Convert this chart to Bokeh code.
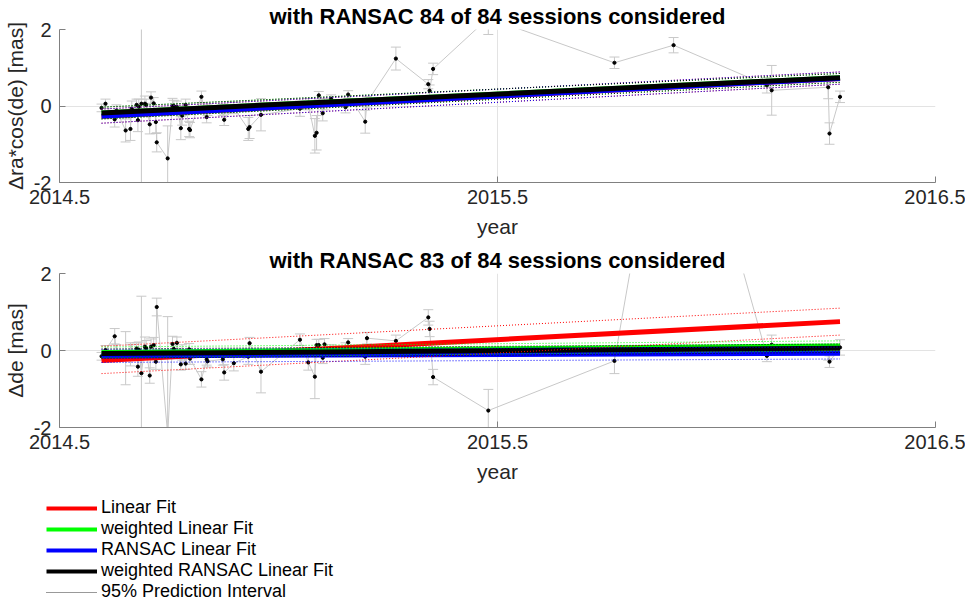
import numpy as np
from bokeh.plotting import figure
from bokeh.layouts import column
from bokeh.models import Range1d, FixedTicker, Legend, LegendItem
from bokeh.embed import file_html
from bokeh.resources import INLINE

# ---------------- data ----------------
years = [2014.596, 2014.605, 2014.626, 2014.630, 2014.651, 2014.662, 2014.665, 2014.676,
         2014.679, 2014.681, 2014.687, 2014.695, 2014.698, 2014.706, 2014.709, 2014.715,
         2014.720, 2014.722, 2014.747, 2014.758, 2014.761, 2014.768, 2014.777, 2014.780,
         2014.788, 2014.796, 2014.798, 2014.824, 2014.836, 2014.838, 2014.873, 2014.876,
         2014.898, 2014.931, 2014.934, 2014.960, 2015.049, 2015.068, 2015.083, 2015.087,
         2015.092, 2015.101, 2015.105, 2015.120, 2015.153, 2015.159, 2015.198, 2015.202,
         2015.268, 2015.342, 2015.345, 2015.353, 2015.479, 2015.767, 2015.902, 2016.115,
         2016.126, 2016.255, 2016.258, 2016.282]

ra = [-0.05, 0.06, -0.35, -0.12, -0.64, -0.60, -0.07, 0.03,
      -0.37, -0.02, 0.06, 0.06, 0.03, -0.48, 0.22, 0.07,
      -0.42, -0.95, -1.37, 0.00, 0.00, -0.02, -0.58, -0.25,
      0.03, -0.60, -0.63, 0.24, -0.29, -0.10, -0.10, -0.36,
      -0.05, -0.60, -0.55, -0.23, -0.07, 0.05, -0.78, -0.70,
      0.28, -0.19, 0.05, 0.19, -0.03, 0.30, -0.41, 0.10,
      1.24, 0.57, 0.40, 0.97, 2.30, 1.13, 1.59, 0.54,
      0.41, 0.49, -0.72, 0.24]
ra_err = [0.10, 0.12, 0.20, 0.15, 0.30, 0.30, 0.20, 0.15,
          0.30, 0.20, 2.80, 0.20, 0.15, 0.25, 0.15, 0.15,
          0.30, 0.25, 0.85, 0.20, 0.15, 0.15, 0.30, 0.25,
          0.15, 0.20, 0.20, 0.15, 0.15, 0.15, 0.15, 0.15,
          0.15, 0.30, 0.30, 0.42, 0.20, 0.15, 0.45, 0.45,
          0.10, 0.20, 0.15, 0.10, 0.15, 0.10, 0.30, 0.15,
          0.30, 0.12, 0.15, 0.15, 0.43, 0.15, 0.20, 0.20,
          0.65, 0.30, 0.28, 0.15]

de = [-0.15, 0.01, 0.37, -0.05, -0.20, -0.10, -0.05, 0.05,
      -0.42, 0.02, -0.59, 0.10, 0.06, -0.65, 0.10, 0.14,
      -0.29, 1.13, -2.20, 0.17, 0.04, 0.20, -0.36, -0.05,
      -0.34, 0.03, -0.21, -0.75, -0.23, -0.28, -0.23, -0.57,
      -0.33, -0.16, 0.19, -0.55, 0.28, -0.31, -0.68, 0.14,
      0.14, -0.19, 0.16, 0.00, 0.05, 0.21, -0.16, 0.32,
      0.25, 0.86, 0.56, -0.69, -1.56, -0.27, 8.50, -0.14,
      0.15, -0.05, -0.29, 0.08]
de_err = [0.10, 0.12, 0.20, 0.20, 0.69, 0.30, 0.20, 0.15,
          0.25, 0.20, 2.00, 0.25, 0.20, 0.20, 0.20, 0.20,
          0.20, 0.23, 3.08, 0.20, 0.15, 0.15, 0.15, 0.20,
          0.15, 0.15, 0.15, 0.20, 0.15, 0.15, 0.15, 0.20,
          0.20, 0.20, 0.15, 0.55, 0.15, 0.20, 0.57, 0.15,
          0.15, 0.15, 0.15, 0.15, 0.15, 0.10, 0.20, 0.15,
          0.15, 0.20, 0.20, 0.20, 0.55, 0.33, 0.30, 0.15,
          0.25, 0.20, 0.15, 0.20]

# fit lines: values at first and last session (Linear, weighted Linear, RANSAC, weighted RANSAC)
ra_fit = [[-0.27, 0.72], [-0.18, 0.74], [-0.27, 0.72], [-0.18, 0.74]]
ra_pi_up = [[-0.08, 0.89], [-0.03, 0.85], [-0.08, 0.89], [-0.03, 0.85]]
ra_pi_lo = [[-0.45, 0.57], [-0.34, 0.62], [-0.45, 0.57], [-0.34, 0.62]]

de_fit = [[-0.26, 0.75], [-0.05, 0.12], [-0.14, -0.07], [-0.08, 0.06]]
de_pi_up = [[0.11, 1.10], [0.09, 0.25], [0.03, 0.09], [0.04, 0.17]]
de_pi_lo = [[-0.60, 0.40], [-0.19, -0.01], [-0.31, -0.22], [-0.20, -0.05]]

fit_colors = ["#ff0000", "#00ff00", "#0000ff", "#000000"]
legend_labels = ["Linear Fit", "weighted Linear Fit", "RANSAC Linear Fit",
                 "weighted RANSAC Linear Fit", "95% Prediction Interval"]
x_ticks = [2014.5, 2015.5, 2016.5]
y_ticks = [-2, 0, 2]

titles = ["with RANSAC 84 of 84 sessions considered", "with RANSAC 83 of 84 sessions considered"]
ylabels = ["\u0394ra*cos(de) [mas]", "\u0394de [mas]"]

FONT = "Liberation Sans"
GRAY = "#c8c8c8"
TXT = "#262626"


def panel(title, ylabel, vals, errs, fits, pis_up, pis_lo, fh, b_bottom):
    p = figure(frame_width=876, frame_height=fh, output_backend="svg", toolbar_location=None,
               x_range=Range1d(x_ticks[0], x_ticks[-1]), y_range=Range1d(y_ticks[0], y_ticks[-1]),
               min_border_left=54, min_border_right=30, min_border_top=0,
               min_border_bottom=b_bottom, title=title)
    p.outline_line_color = None
    p.title.align = "center"
    p.title.text_font = FONT
    p.title.text_font_size = "22px"
    p.title.text_font_style = "bold"
    p.title.text_color = "black"
    p.title.standoff = 2
    p.title.offset = 0

    p.xaxis.ticker = FixedTicker(ticks=x_ticks)
    p.yaxis.ticker = FixedTicker(ticks=y_ticks)
    p.xaxis.major_label_overrides = {t: f"{t:.1f}" for t in x_ticks}
    p.yaxis.major_label_overrides = {t: f"{t:d}" for t in y_ticks}
    for ax in (p.xaxis[0], p.yaxis[0]):
        ax.axis_line_color = "#808080"
        ax.major_tick_line_color = "#808080"
        ax.major_tick_in = 6
        ax.major_tick_out = 0
        ax.minor_tick_in = 0
        ax.minor_tick_out = 0
        ax.major_label_text_font = FONT
        ax.major_label_text_font_size = "20px"
        ax.major_label_text_color = TXT
        ax.axis_label_text_font = FONT
        ax.axis_label_text_font_size = "21px"
        ax.axis_label_text_font_style = "normal"
        ax.axis_label_text_color = TXT
    p.xaxis.axis_label = "year"
    p.yaxis.axis_label = ylabel
    p.xaxis.major_label_standoff = 7
    p.xaxis.axis_label_standoff = 8
    p.yaxis.major_label_standoff = 8
    p.yaxis.axis_label_standoff = 4

    p.xgrid.ticker = FixedTicker(ticks=x_ticks)
    p.ygrid.ticker = FixedTicker(ticks=y_ticks)
    p.grid.grid_line_color = "#e3e3e3"
    p.grid.grid_line_width = 1

    x = np.array(years)
    v = np.array(vals)
    e = np.array(errs)
    p.line(x, v, color=GRAY, line_width=1)
    p.segment(x, v - e, x, v + e, color=GRAY, line_width=1)
    p.scatter(x, v - e, marker="dash", size=10, color=GRAY, line_width=1)
    p.scatter(x, v + e, marker="dash", size=10, color=GRAY, line_width=1)
    p.scatter(x, v, marker="circle", size=3.2, color="black")

    fx = [years[0], years[-1]]
    for f, c in zip(fits, fit_colors):
        p.line(fx, f, color=c, line_width=5)
    for up, lo, c in zip(pis_up, pis_lo, fit_colors):
        p.line(fx, up, color=c, line_width=1, line_dash="1 2")
        p.line(fx, lo, color=c, line_width=1, line_dash="1 2")
    return p


p1 = panel(titles[0], ylabels[0], ra, ra_err, ra_fit, ra_pi_up, ra_pi_lo, 153, 69)
p2 = panel(titles[1], ylabels[1], de, de_err, de_fit, de_pi_up, de_pi_lo, 154, 59)
p2.margin = (-7, 0, 0, 0)

leg = figure(width=960, height=116, output_backend="svg", toolbar_location=None,
             x_axis_type=None, y_axis_type=None, x_range=Range1d(0, 1), y_range=Range1d(0, 1),
             min_border_left=0, min_border_right=0, min_border_top=0, min_border_bottom=0)
leg.margin = (0, 0, 0, -51)
leg.outline_line_color = None
leg.grid.visible = False
items = []
for lab, c in zip(legend_labels[:4], fit_colors):
    r = leg.line([-5, -4], [-5, -4], color=c, line_width=4)
    items.append(LegendItem(label=lab, renderers=[r]))
r = leg.line([-5, -4], [-5, -4], color="#333333", line_width=1, line_dash="1 1")
items.append(LegendItem(label=legend_labels[4], renderers=[r]))
legend = Legend(items=items, location=(38, 0), orientation="vertical",
                glyph_width=51, glyph_height=20, label_height=20, label_standoff=4,
                spacing=0, padding=0, margin=0, border_line_color=None,
                background_fill_alpha=0, label_text_font=FONT, label_text_font_size="18px",
                label_text_color="black")
leg.add_layout(legend, "center")

page = column(p1, p2, leg, spacing=0)
open("out.html", "w").write(file_html(page, INLINE))
